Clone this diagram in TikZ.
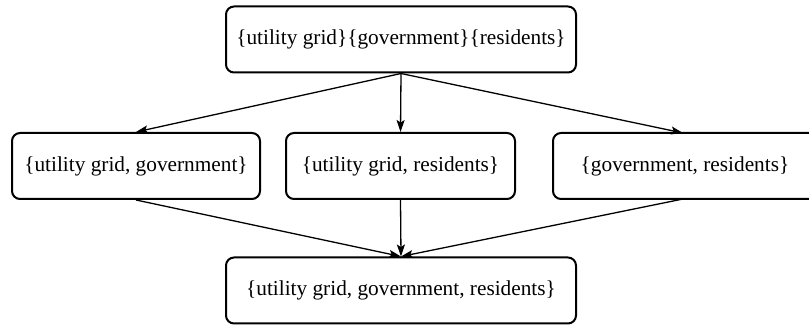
\documentclass[tikz,border=0pt]{standalone}
\usepackage{fontspec}
\setmainfont{Liberation Serif}
\usetikzlibrary{arrows.meta}
\begin{document}
\begin{tikzpicture}[x=1pt,y=-1pt,
  setbox/.style={draw, line width=2pt, rounded corners=8pt, minimum height=66pt, inner sep=0pt, font=\fontsize{21.3}{24}\selectfont},
  link/.style={line width=1.3pt, -{Stealth[length=12pt,width=8pt,inset=2.5pt]}}]
\useasboundingbox (0,0) rectangle (809,328);
\node[setbox, minimum width=350pt] (top) at (401,39.5) {\{utility grid\}\{government\}\{residents\}};
\node[setbox, minimum width=248pt] (l) at (136,166) {\{utility grid, government\}};
\node[setbox, minimum width=229pt] (m) at (400.5,166) {\{utility grid, residents\}};
\node[setbox, minimum width=264pt] (r) at (685,166) {\{government, residents\}};
\node[setbox, minimum width=350pt] (bot) at (401,290.5) {\{utility grid, government, residents\}};
\coordinate (rin) at (683,133);
\coordinate (rout) at (683,199);
\draw[link] (top.south) -- (l.north);
\draw[link] (top.south) -- (m.north);
\draw[link] (top.south) -- (rin);
\draw[link] (l.south) -- (bot.north);
\draw[link] (m.south) -- (bot.north);
\draw[link] (rout) -- (bot.north);
\end{tikzpicture}
\end{document}
